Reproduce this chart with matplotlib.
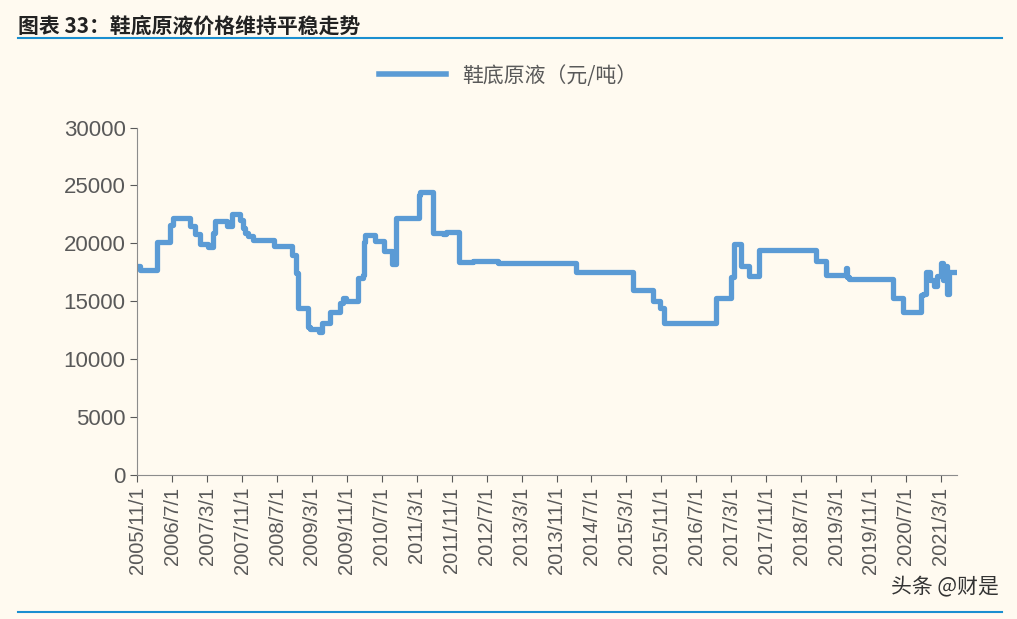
import matplotlib
matplotlib.use("Agg")
import matplotlib.pyplot as plt
from matplotlib.lines import Line2D

plt.rcParams["font.family"] = ["Noto Sans CJK SC", "DejaVu Sans"]

# months since 2005-11 where price changes, and price (元/吨) from that point
months = [0, 0.7, 4.6, 7.6, 8.2, 12.1, 13.3, 14.4, 16.3, 17.4, 17.9, 20.6, 21.8,
          23.6, 24.3, 24.7, 25.4, 26.4, 31.4, 35.5, 36.4, 36.9, 39.2, 39.6, 41.5,
          42.2, 44.2, 46.5, 47.2, 47.7, 50.6, 51.6, 51.8, 52.2, 54.5, 56.4, 58.4,
          59.3, 64.4, 64.8, 67.6, 70.1, 70.6, 73.6, 76.8, 82.7, 100.4, 113.4, 118,
          119.8, 120.5, 131.3, 132.5, 135.4, 135.9, 136.6, 138.2, 140, 142.3, 155.4,
          157.7, 162.2, 162.5, 162.9, 173, 175.3, 179.4, 179.9, 180.6, 181.5, 182.4,
          183.1, 184, 184.5, 185.1, 185.3, 185.8, 186.3, 187.7]
prices = [18000, 17700, 20100, 21600, 22200, 21500, 20800, 19900, 19700, 20900, 21900,
          21500, 22500, 22000, 21300, 20900, 20600, 20300, 19800, 19000, 17400, 14400,
          12800, 12600, 12300, 13100, 14100, 14800, 15300, 15000, 17000, 17300, 20100,
          20700, 20200, 19300, 18200, 22200, 24200, 24400, 20900, 20800, 21000, 18400,
          18500, 18300, 17500, 16000, 15000, 14400, 13100, 13100, 15300, 15300, 17100,
          19900, 18000, 17200, 19400, 18500, 17300, 17900, 17100, 16900, 15300, 14100,
          15500, 15600, 17500, 16800, 16300, 17200, 18300, 16800, 18000, 15600, 17500,
          17500, 17500]

tick_labels = ["2005/11/1", "2006/7/1", "2007/3/1", "2007/11/1", "2008/7/1", "2009/3/1",
               "2009/11/1", "2010/7/1", "2011/3/1", "2011/11/1", "2012/7/1", "2013/3/1",
               "2013/11/1", "2014/7/1", "2015/3/1", "2015/11/1", "2016/7/1", "2017/3/1",
               "2017/11/1", "2018/7/1", "2019/3/1", "2019/11/1", "2020/7/1", "2021/3/1"]

bg = "#fffaf0"
blue = "#5b9bd5"
gray = "#595959"

fig = plt.figure(figsize=(10.17, 6.19), dpi=100, facecolor=bg)
ax = fig.add_axes([0.135, 0.233, 0.806, 0.561], facecolor=bg)
ax.plot(months, prices, drawstyle="steps-post", color=blue, lw=3.8,
        solid_joinstyle="round", solid_capstyle="round")

ax.set_xlim(0, 187.7)
ax.set_ylim(0, 30000)
ax.set_yticks(range(0, 30001, 5000))
ax.set_xticks([8 * i for i in range(len(tick_labels))])
ax.set_xticklabels(tick_labels, rotation=90, fontsize=14.5, color=gray, family="Liberation Sans")
ax.tick_params(axis="y", labelsize=16, colors=gray, length=5, direction="out")
ax.tick_params(axis="x", colors=gray, length=5, direction="out")
for lbl in ax.get_yticklabels():
    lbl.set_family("Liberation Sans")
for s in ["top", "right"]:
    ax.spines[s].set_visible(False)
for s in ["left", "bottom"]:
    ax.spines[s].set_color("#8c8c8c")

handle = Line2D([], [], color=blue, lw=4)
fig.legend([handle], ["鞋底原液（元/吨）"], loc="center", bbox_to_anchor=(0.5, 0.878),
           frameon=False, fontsize=15, handlelength=3.2, labelcolor=gray)

fig.text(0.018, 0.975, "图表 33：鞋底原液价格维持平稳走势", fontsize=15, fontweight="bold",
         style="italic", va="top", color="#222222")
fig.add_artist(Line2D([0.018, 0.985], [0.938, 0.938], color="#1a8fd0", lw=1.5))
fig.add_artist(Line2D([0.018, 0.985], [0.012, 0.012], color="#1a8fd0", lw=1.5))
fig.text(0.982, 0.052, "头条 @财是", fontsize=15, ha="right", va="center", color="#333333")

fig.savefig("out.png", facecolor=bg)
